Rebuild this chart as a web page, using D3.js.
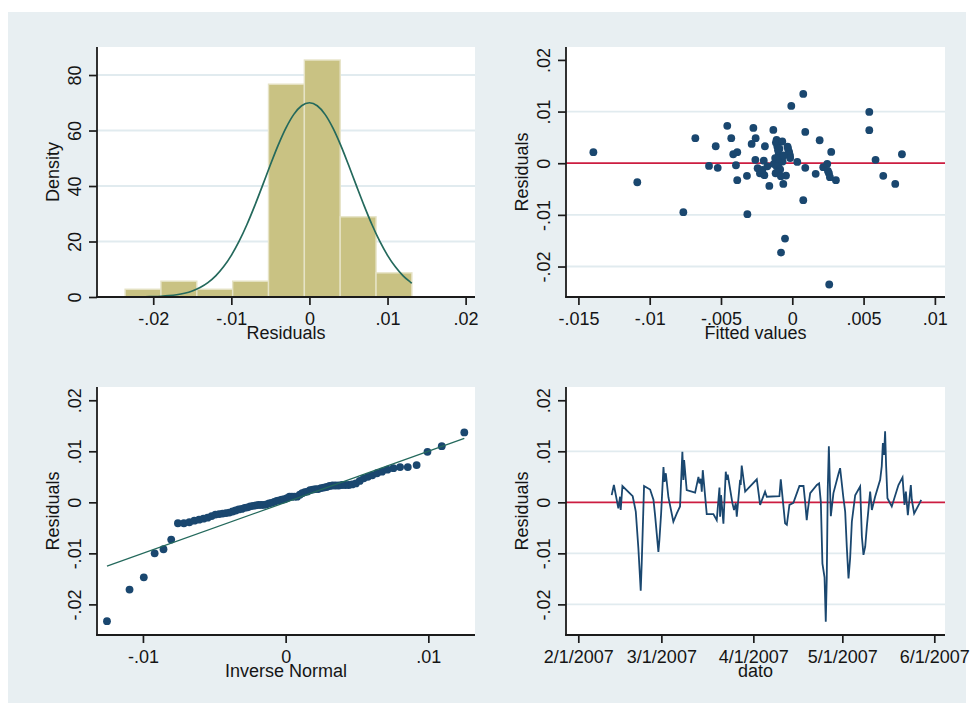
<!DOCTYPE html>
<html><head><meta charset="utf-8">
<script src="https://cdn.jsdelivr.net/npm/d3@7"></script>
<style>
body{margin:0;background:#fff}
svg{display:block}
text{font-family:"Liberation Sans",Arial,Helvetica,sans-serif;fill:#151515}
</style>
</head><body>
<svg id="c" width="972" height="713"></svg>
<script>
// ---------------- DATA ----------------
// Histogram of residuals (density)
const histEdges = [-0.0236, -0.01901, -0.01442, -0.00983, -0.00524, -0.00065, 0.00394, 0.00853, 0.01312];
const histDensity = [2.8, 5.7, 2.8, 5.7, 76.7, 85.4, 28.9, 8.7];
// Normal density overlay
const normX = [-0.0236,-0.023,-0.022,-0.021,-0.020,-0.019,-0.018,-0.017,-0.016,-0.015,-0.014,-0.013,-0.012,-0.011,-0.010,-0.009,-0.008,-0.007,-0.006,-0.005,-0.004,-0.003,-0.002,-0.001,0,0.001,0.002,0.003,0.004,0.005,0.006,0.007,0.008,0.009,0.010,0.011,0.012,0.013,0.0131];
const normY = [0.01,0.02,0.04,0.08,0.15,0.27,0.48,0.82,1.36,2.19,3.43,5.19,7.63,10.88,15.02,20.12,26.14,32.94,40.22,47.64,54.73,60.95,65.82,68.93,70.0,68.93,65.82,60.95,54.73,47.64,40.22,32.94,26.14,20.12,15.02,10.88,7.63,5.19,4.95];
const histXTicks = [-0.02, -0.01, 0, 0.01, 0.02];
const histXLabels = ["-.02", "-.01", "0", ".01", ".02"];
const histYTicks = [0, 20, 40, 60, 80];
const histYLabels = ["0", "20", "40", "60", "80"];

// Residuals vs fitted values
const fitted = [-0.01395,-0.01087,-0.00764,-0.00680,-0.00537,-0.00584,-0.00523,-0.00456,-0.00428,-0.00414,-0.00386,-0.00395,-0.00386,-0.00318,-0.00315,-0.00273,-0.00257,-0.00285,-0.00259,-0.00243,-0.00227,-0.00196,-0.00192,-0.00161,-0.00133,-0.00129,-0.00117,-0.00110,-0.00105,-0.00096,-0.00086,-0.00079,-0.00063,-0.00051,-0.00044,-0.00068,-0.00033,-0.00023,-0.00016,-0.00007,0.00077,0.00035,0.00091,0.00091,0.00077,0.00164,0.00192,0.00217,0.00245,0.00257,0.00273,0.00264,0.00306,0.00259,0.00540,0.00540,0.00584,0.00638,0.00722,0.00769,-0.00115,-0.00100,-0.00120,-0.00095,-0.00110,-0.00085,-0.00100,-0.00080,-0.00030,-0.00020,-0.00015,-0.00200,-0.00210,-0.00175,-0.00060,-0.00070,0.00250,-0.00090];
const residFit = [0.00213,-0.00368,-0.00948,0.00484,0.00329,-0.00052,-0.00090,0.00723,0.00484,0.00174,0.00213,-0.00039,-0.00329,-0.00245,-0.00987,0.00684,0.00484,0.00374,0.00065,-0.00097,-0.00194,-0.00232,0.00329,-0.00439,0.00645,-0.00013,-0.00194,0.00452,0.00323,0.00161,0.00065,-0.01729,-0.00400,-0.01458,-0.00239,0.00032,0.00323,0.00226,0.00142,0.01110,0.01342,0.00026,0.00606,-0.00090,-0.00716,-0.00206,0.00445,-0.00077,-0.00013,-0.00194,0.00219,-0.00271,-0.00329,-0.02348,0.00994,0.00639,0.00065,-0.00245,-0.00400,0.00174,0.00400,0.00250,0.00100,0.00000,-0.00060,-0.00120,-0.00180,-0.00250,0.00280,0.00180,0.00100,0.00050,-0.00130,-0.00060,0.00150,0.00420,-0.00150,0.00280];
const fitXTicks = [-0.015, -0.01, -0.005, 0, 0.005, 0.01];
const fitXLabels = ["-.015", "-.01", "-.005", "0", ".005", ".01"];
const residYTicks = [-0.02, -0.01, 0, 0.01, 0.02];
const residYLabels = ["-.02", "-.01", "0", ".01", ".02"];

// Normal quantile plot: inverse normal vs sorted residuals
const qqX = [-0.01252,-0.01094,-0.00994,-0.00918,-0.00856,-0.00802,-0.00755,-0.00713,-0.00675,-0.00640,-0.00607,-0.00576,-0.00547,-0.00519,-0.00492,-0.00466,-0.00442,-0.00418,-0.00395,-0.00372,-0.00350,-0.00329,-0.00308,-0.00287,-0.00267,-0.00248,-0.00228,-0.00209,-0.00190,-0.00171,-0.00153,-0.00134,-0.00116,-0.00099,-0.00080,-0.00062,-0.00044,-0.00027,-0.00009,0.00009,0.00027,0.00044,0.00062,0.00080,0.00099,0.00116,0.00134,0.00153,0.00171,0.00190,0.00209,0.00228,0.00248,0.00267,0.00287,0.00308,0.00329,0.00350,0.00372,0.00395,0.00418,0.00442,0.00466,0.00492,0.00519,0.00547,0.00576,0.00607,0.00640,0.00675,0.00713,0.00755,0.00802,0.00856,0.00918,0.00994,0.01094,0.01252];
const qqY = [-0.0233,-0.0171,-0.0147,-0.0100,-0.0092,-0.0073,-0.0041,-0.0041,-0.0039,-0.0036,-0.0034,-0.0032,-0.0030,-0.0027,-0.0024,-0.0023,-0.0022,-0.0021,-0.0020,-0.0018,-0.0016,-0.0014,-0.0013,-0.0011,-0.0010,-0.0008,-0.0007,-0.0006,-0.0005,-0.0005,-0.0005,-0.0004,-0.0002,-0.0001,0.0001,0.0003,0.0004,0.0005,0.0006,0.0008,0.0011,0.0011,0.0011,0.0011,0.0015,0.0018,0.0020,0.0021,0.0024,0.0025,0.0026,0.0026,0.0028,0.0029,0.0030,0.0032,0.0033,0.0033,0.0033,0.0034,0.0034,0.0034,0.0035,0.0037,0.0042,0.0047,0.0050,0.0053,0.0057,0.0060,0.0064,0.0067,0.0069,0.0069,0.0073,0.0099,0.0110,0.0137];
const qqLine = [-0.01252, 0.01252];
const qqXTicks = [-0.01, 0, 0.01];
const qqXLabels = ["-.01", "0", ".01"];

// Residuals over time
const tsDate = ["2007-02-12T06","2007-02-13T00","2007-02-14T12","2007-02-15T02","2007-02-15T07","2007-02-15T21","2007-02-19T08","2007-02-20T09","2007-02-21T06","2007-02-22T01","2007-02-22T09","2007-02-23T04","2007-02-25T05","2007-02-26T08","2007-02-26T21","2007-02-28T00","2007-02-28T08","2007-02-28T22","2007-03-01T17","2007-03-02T01","2007-03-02T12","2007-03-03T09","2007-03-05T01","2007-03-06T04","2007-03-07T07","2007-03-08T02","2007-03-08T10","2007-03-08T16","2007-03-09T13","2007-03-12T09","2007-03-13T12","2007-03-13T20","2007-03-14T07","2007-03-14T15","2007-03-14T23","2007-03-16T07","2007-03-18T13","2007-03-19T16","2007-03-20T14","2007-03-20T19","2007-03-21T03","2007-03-21T22","2007-03-22T17","2007-03-23T01","2007-03-23T09","2007-03-24T23","2007-03-25T12","2007-03-26T02","2007-03-26T10","2007-03-27T13","2007-03-27T18","2007-03-28T02","2007-03-29T06","2007-04-02T04","2007-04-03T07","2007-04-04T23","2007-04-05T13","2007-04-09T19","2007-04-10T06","2007-04-11T17","2007-04-12T07","2007-04-13T04","2007-04-14T12","2007-04-16T13","2007-04-17T22","2007-04-18T11","2007-04-19T00","2007-04-19T09","2007-04-20T04","2007-04-22T10","2007-04-23T04","2007-04-23T18","2007-04-24T07","2007-04-25T00","2007-04-25T10","2007-04-25T18","2007-04-26T02","2007-04-26T11","2007-04-26T19","2007-04-27T03","2007-04-28T00","2007-04-29T17","2007-04-30T06","2007-05-01T09","2007-05-01T23","2007-05-02T12","2007-05-03T02","2007-05-03T15","2007-05-04T05","2007-05-05T08","2007-05-07T00","2007-05-07T14","2007-05-08T03","2007-05-08T17","2007-05-09T06","2007-05-10T09","2007-05-10T23","2007-05-12T01","2007-05-13T18","2007-05-14T07","2007-05-14T16","2007-05-15T02","2007-05-15T10","2007-05-15T18","2007-05-16T05","2007-05-17T16","2007-05-19T22","2007-05-21T07","2007-05-21T23","2007-05-22T10","2007-05-23T02","2007-05-24T02","2007-05-24T10","2007-05-25T05","2007-05-27T00","2007-05-27T14"];
const tsResid = [0.0014,0.0034,-0.0012,0.0011,-0.0015,0.0032,0.0012,-0.0018,-0.0090,-0.0173,-0.0120,0.0032,0.0025,0.0005,-0.0025,-0.0097,-0.0074,-0.0022,0.0069,0.0040,0.0057,0.0010,-0.0038,-0.0022,-0.0008,0.0099,0.0044,0.0083,0.0024,0.0019,0.0050,0.0037,0.0046,0.0021,0.0063,-0.0023,-0.0023,-0.0035,0.0029,-0.0028,0.0014,-0.0042,0.0060,0.0044,0.0054,-0.0002,-0.0015,-0.0002,-0.0028,0.0044,0.0034,0.0072,0.0021,0.0045,-0.0005,0.0021,0.0011,0.0012,0.0045,-0.0041,-0.0044,-0.0005,-0.0001,0.0032,0.0032,0.0001,-0.0035,-0.0015,0.0018,0.0034,0.0037,0.0001,-0.0120,-0.0147,-0.0234,-0.0149,0.0024,0.0110,0.0037,-0.0027,0.0018,0.0056,0.0067,0.0008,-0.0018,-0.0087,-0.0149,-0.0110,-0.0038,0.0014,0.0031,-0.0067,-0.0103,-0.0087,-0.0048,0.0021,-0.0015,0.0011,0.0044,0.0071,0.0116,0.0093,0.0139,0.0073,0.0008,-0.0008,0.0034,0.0049,-0.0005,0.0021,-0.0025,0.0034,0.0005,-0.0022,-0.0002,0.0005];
const tsTickDates = ["2007-02-01","2007-03-01","2007-04-01","2007-05-01","2007-06-01"];
const tsTickLabels = ["2/1/2007","3/1/2007","4/1/2007","5/1/2007","6/1/2007"];

// ---------------- DRAWING ----------------
const NAVY = "#1a476f", TEAL = "#24695c", RED = "#cc1d40", KHAKI = "#c9c283";
const FS = 18;
const svg = d3.select("#c");
svg.append("rect").attr("x",0).attr("y",0).attr("width",972).attr("height",713).attr("fill","#ffffff");
svg.append("rect").attr("x",8).attr("y",12).attr("width",958).attr("height",691).attr("fill","#e8eff2");

const P1 = {l:97, r:475, t:47, b:297};
const P2 = {l:566, r:945, t:47, b:297};
const P3 = {l:97, r:475, t:387, b:635};
const P4 = {l:566, r:945, t:387, b:635};

function plotArea(p){
  svg.append("rect").attr("x",p.l).attr("y",p.t).attr("width",p.r-p.l).attr("height",p.b-p.t).attr("fill","#ffffff");
}
function grid(p, y, vals){
  svg.append("g").selectAll("line").data(vals).join("line")
    .attr("x1",p.l).attr("x2",p.r).attr("y1",d=>y(d)).attr("y2",d=>y(d))
    .attr("stroke","#e1ebef").attr("stroke-width",1.8);
}
function axes(p, x, y, xt, xl, yt, yl, xTitle, yTitle){
  const gy = svg.append("g").attr("transform",`translate(${p.l},0)`)
    .call(d3.axisLeft(y).tickValues(yt).tickFormat((d,i)=>yl[i]).tickSize(8).tickSizeOuter(0));
  gy.select(".domain").remove();
  gy.selectAll(".tick line").attr("stroke","#1b1b1b").attr("stroke-width",1.7);
  gy.selectAll(".tick text").attr("x",0).attr("y",-16.5).attr("dy",0)
    .attr("text-anchor","middle").attr("transform","rotate(-90)")
    .style("font-size",FS+"px").attr("fill","#151515");
  const gx = svg.append("g").attr("transform",`translate(0,${p.b})`)
    .call(d3.axisBottom(x).tickValues(xt).tickFormat((d,i)=>xl[i]).tickSize(8).tickSizeOuter(0));
  gx.select(".domain").remove();
  gx.selectAll(".tick line").attr("stroke","#1b1b1b").attr("stroke-width",1.7);
  gx.selectAll(".tick text").attr("y",27.5).attr("dy",0).attr("text-anchor","middle")
    .style("font-size",FS+"px").attr("fill","#151515");
  gy.attr("font-family",null); gx.attr("font-family",null);
  svg.append("line").attr("x1",p.l).attr("x2",p.l).attr("y1",p.t).attr("y2",p.b+0.8)
    .attr("stroke","#1b1b1b").attr("stroke-width",1.8);
  svg.append("line").attr("x1",p.l-0.8).attr("x2",p.r).attr("y1",p.b).attr("y2",p.b)
    .attr("stroke","#1b1b1b").attr("stroke-width",1.8);
  svg.append("text").attr("x",(p.l+p.r)/2).attr("y",p.b+41.5).attr("text-anchor","middle")
    .style("font-size",FS+"px").text(xTitle);
  svg.append("text").attr("transform",`translate(${p.l-38},${(p.t+p.b)/2}) rotate(-90)`)
    .attr("text-anchor","middle").style("font-size",FS+"px").text(yTitle);
}

// ---- Panel 1: histogram ----
plotArea(P1);
const x1 = d3.scaleLinear().domain([-0.0272, 0.0212]).range([P1.l, P1.r]);
const y1 = d3.scaleLinear().domain([0, 90.1]).range([P1.b, P1.t]);
grid(P1, y1, [20,40,60,80]);
svg.append("g").selectAll("rect").data(histDensity).join("rect")
  .attr("x",(d,i)=>x1(histEdges[i])).attr("width",(d,i)=>x1(histEdges[i+1])-x1(histEdges[i]))
  .attr("y",d=>y1(d)).attr("height",d=>y1(0)-y1(d))
  .attr("fill",KHAKI).attr("stroke","#e6e3c6").attr("stroke-width",1.4);
svg.append("path").datum(normX.map((v,i)=>[v,normY[i]]))
  .attr("d",d3.line().x(d=>x1(d[0])).y(d=>y1(d[1])).curve(d3.curveMonotoneX))
  .attr("fill","none").attr("stroke",TEAL).attr("stroke-width",1.7);
axes(P1, x1, y1, histXTicks, histXLabels, histYTicks, histYLabels, "Residuals", "Density");

// ---- Panel 2: residuals vs fitted ----
plotArea(P2);
const x2 = d3.scaleLinear().domain([-0.01587, 0.01071]).range([P2.l, P2.r]);
const y2 = d3.scaleLinear().domain([-0.0259, 0.0225]).range([P2.b, P2.t]);
grid(P2, y2, [0.01,-0.01,-0.02]);
svg.append("line").attr("x1",P2.l).attr("x2",P2.r).attr("y1",y2(0)).attr("y2",y2(0))
  .attr("stroke",RED).attr("stroke-width",1.8);
svg.append("g").selectAll("circle").data(fitted).join("circle")
  .attr("cx",d=>x2(d)).attr("cy",(d,i)=>y2(residFit[i])).attr("r",3.9).attr("fill",NAVY);
axes(P2, x2, y2, fitXTicks, fitXLabels, residYTicks, residYLabels, "Fitted values", "Residuals");

// ---- Panel 3: normal quantile ----
plotArea(P3);
const x3 = d3.scaleLinear().domain([-0.01322, 0.01327]).range([P3.l, P3.r]);
const y3 = d3.scaleLinear().domain([-0.026, 0.0226]).range([P3.b, P3.t]);
svg.append("g").selectAll("circle").data(qqX).join("circle")
  .attr("cx",d=>x3(d)).attr("cy",(d,i)=>y3(qqY[i])).attr("r",3.9).attr("fill",NAVY);
svg.append("line").attr("x1",x3(qqLine[0])).attr("y1",y3(qqLine[0]))
  .attr("x2",x3(qqLine[1])).attr("y2",y3(qqLine[1]))
  .attr("stroke",TEAL).attr("stroke-width",1.3);
axes(P3, x3, y3, qqXTicks, qqXLabels, residYTicks, residYLabels, "Inverse Normal", "Residuals");

// ---- Panel 4: residuals over time ----
plotArea(P4);
const parseT = d3.timeParse("%Y-%m-%dT%H");
const parseD = d3.timeParse("%Y-%m-%d");
const x4 = d3.scaleTime().domain([parseD("2007-02-01"), parseD("2007-06-01")]).range([578.3, 934.3]);
const y4 = d3.scaleLinear().domain([-0.026, 0.0226]).range([P4.b, P4.t]);
grid(P4, y4, [0.01,-0.01,-0.02]);
svg.append("line").attr("x1",P4.l).attr("x2",P4.r).attr("y1",y4(0)).attr("y2",y4(0))
  .attr("stroke",RED).attr("stroke-width",1.8);
svg.append("path").datum(tsDate.map((d,i)=>[parseT(d), tsResid[i]]))
  .attr("d",d3.line().x(d=>x4(d[0])).y(d=>y4(d[1])))
  .attr("fill","none").attr("stroke",NAVY).attr("stroke-width",1.8).attr("stroke-linejoin","miter");
axes(P4, x4, y4, tsTickDates.map(parseD), tsTickLabels, residYTicks, residYLabels, "dato", "Residuals");
</script>
</body></html>
